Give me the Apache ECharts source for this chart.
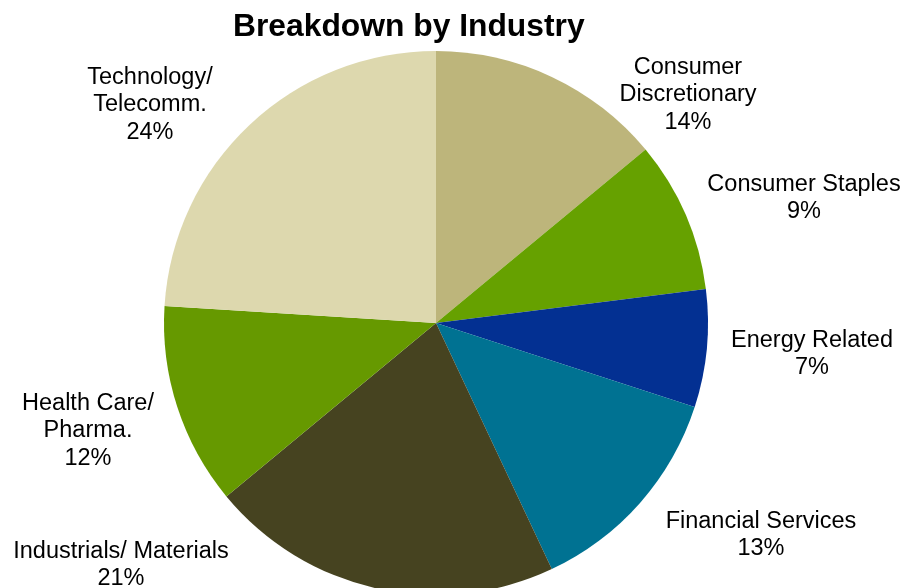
<!DOCTYPE html>
<html>
<head>
<meta charset="utf-8">
<script src="https://cdn.jsdelivr.net/npm/echarts@6/dist/echarts.min.js"></script>
<style>
  html, body { margin: 0; padding: 0; background: #ffffff; }
  #chart { width: 906px; height: 588px; }
</style>
</head>
<body>
<div id="chart"></div>
<script>
// Industry breakdown, clockwise from 12 o'clock
var categories = [
  'Consumer\nDiscretionary',
  'Consumer Staples',
  'Energy Related',
  'Financial Services',
  'Industrials/ Materials',
  'Health Care/\nPharma.',
  'Technology/\nTelecomm.'
];
var shares = [14, 9, 7, 13, 21, 12, 24];
var sliceColors = ['#BDB57B', '#66A100', '#033092', '#007292', '#464320', '#669900', '#DDD8AE'];

// label anchor points (centre of each text block)
var labelSpots = [
  [688, 95], [804, 198], [812, 354], [761, 535],
  [121, 565], [88, 431], [150, 105]
];

var chart = echarts.init(document.getElementById('chart'));
chart.setOption({
  animation: false,
  backgroundColor: '#ffffff',
  title: {
    text: 'Breakdown by Industry',
    left: 228,
    top: 6,
    textStyle: {
      fontFamily: 'Liberation Sans, Arial, sans-serif',
      fontWeight: 'bold',
      fontSize: 31.8,
      color: '#000000'
    }
  },
  series: [{
    type: 'pie',
    center: [436, 323],
    radius: 272,
    startAngle: 90,
    clockwise: true,
    avoidLabelOverlap: false,
    data: categories.map(function (name, i) {
      return { name: name, value: shares[i], itemStyle: { color: sliceColors[i] } };
    }),
    itemStyle: { borderWidth: 0 },
    label: {
      show: true,
      position: 'outside',
      formatter: function (p) { return p.name + '\n' + p.value + '%'; },
      fontFamily: 'Liberation Sans, Arial, sans-serif',
      fontSize: 23.5,
      lineHeight: 27.5,
      color: '#000000',
      align: 'center'
    },
    labelLine: { show: false },
    labelLayout: function (params) {
      var spot = labelSpots[params.dataIndex];
      return { x: spot[0], y: spot[1], align: 'center', verticalAlign: 'middle' };
    },
    emphasis: { disabled: true }
  }]
});
</script>
</body>
</html>
